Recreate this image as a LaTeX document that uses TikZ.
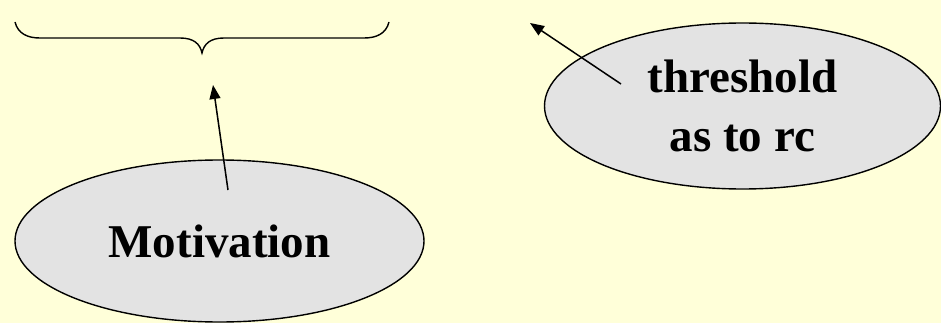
\documentclass[tikz,border=0pt]{standalone}
\usepackage{xcolor}
\usepackage{fontspec}
\setmainfont{Liberation Serif}
\usepackage{tikz}
\usetikzlibrary{arrows.meta, positioning, shapes.geometric}
\definecolor{paper}{RGB}{255,255,217}
\definecolor{bubble}{RGB}{227,227,227}
\tikzstyle{idea} = [ellipse, draw=black, line width=1.4pt, fill=bubble, inner sep=0pt,
                    align=center, font=\bfseries\fontsize{47}{59}\selectfont]
\tikzstyle{arr}  = [-{Triangle[length=14pt, width=11pt]}, line width=1.5pt]

\begin{document}
\begin{tikzpicture}[x=1pt, y=-1pt]
    \fill[paper] (0,0) rectangle (941,323);
    \useasboundingbox (0,0) rectangle (941,323);

    % brace over the top
    \draw[line width=1.4pt] (15,22) .. controls (18,34) and (28,38) .. (40,38)
        -- (180,38) .. controls (194,38) and (200,44) .. (202,53)
        .. controls (204,44) and (210,38) .. (224,38)
        -- (364,38) .. controls (376,38) and (386,34) .. (389,22);

    \node[idea, minimum width=409pt, minimum height=162pt] (mot) at (219.5,241) {Motivation};
    \node[idea, minimum width=396pt, minimum height=166pt] (thr) at (742.5,106) {threshold\\as to rc};

    \coordinate (motTail) at (228,190);
    \coordinate (motTip)  at (213,85);
    \coordinate (thrTail) at (621,84);
    \coordinate (thrTip)  at (530,23);

    \draw[arr] (motTail) -- (motTip);
    \draw[arr] (thrTail) -- (thrTip);
\end{tikzpicture}
\end{document}
